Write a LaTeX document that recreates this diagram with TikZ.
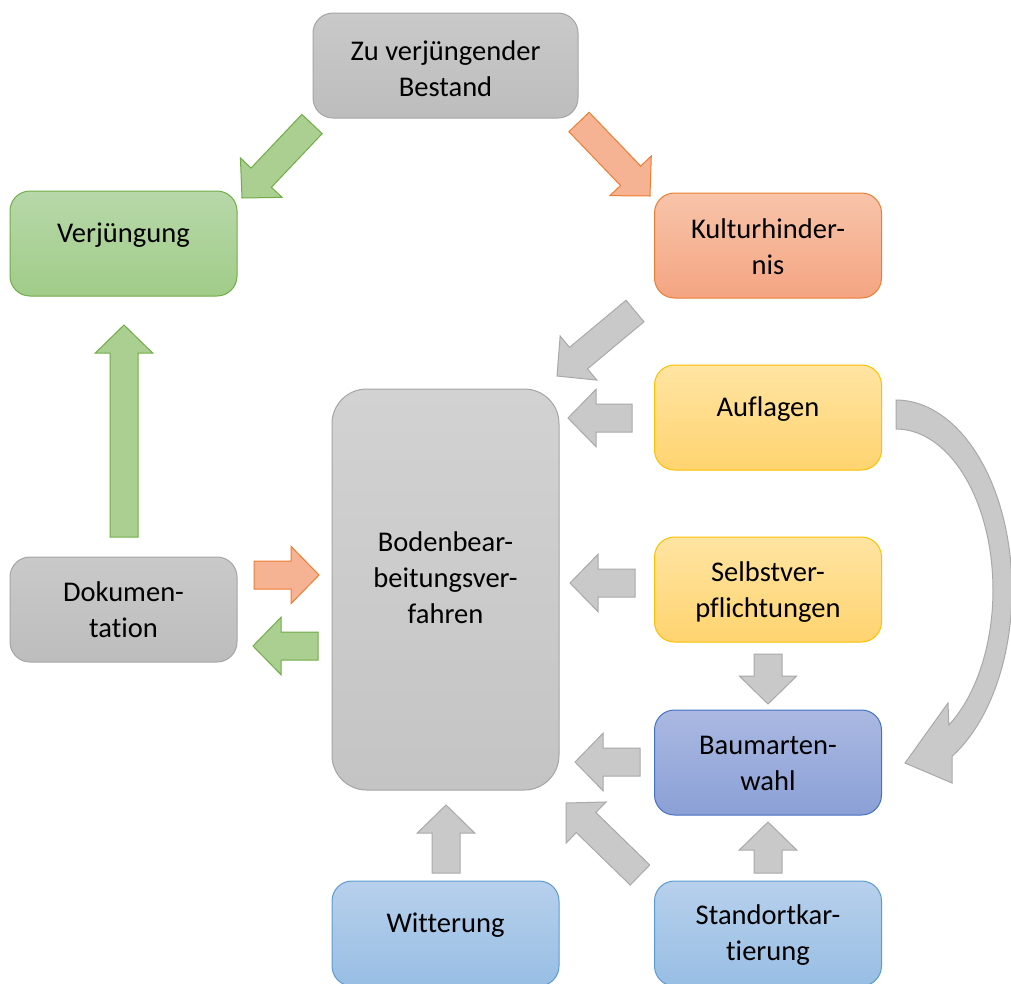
\documentclass[tikz,border=0pt]{standalone}
\usepackage{fontspec}
\setmainfont{Carlito}[Ligatures={NoCommon}]
\usetikzlibrary{calc}
\definecolor{grayT}{HTML}{C9C9C9}
\definecolor{grayB}{HTML}{BDBDBD}
\definecolor{grayD}{HTML}{A5A5A5}
\definecolor{grayLT}{HTML}{D2D2D2}
\definecolor{grayLB}{HTML}{C4C4C4}
\definecolor{greenT}{HTML}{B7D8A9}
\definecolor{greenB}{HTML}{A0CC88}
\definecolor{greenD}{HTML}{70AD47}
\definecolor{orangeT}{HTML}{F8C4AA}
\definecolor{orangeB}{HTML}{F4A582}
\definecolor{orangeD}{HTML}{ED7D31}
\definecolor{yellowT}{HTML}{FFE4A2}
\definecolor{yellowB}{HTML}{FFD470}
\definecolor{yellowD}{HTML}{FFC000}
\definecolor{blueT}{HTML}{ABB9E2}
\definecolor{blueB}{HTML}{8BA0D6}
\definecolor{blueD}{HTML}{4472C4}
\definecolor{lblueT}{HTML}{B7D0EC}
\definecolor{lblueB}{HTML}{98BEE4}
\definecolor{lblueD}{HTML}{5B9BD5}
\definecolor{arrGray}{HTML}{C9C9C9}
\definecolor{arrGrayD}{HTML}{A9A9A9}
\definecolor{arrGreen}{HTML}{AACF90}
\definecolor{arrOrange}{HTML}{F5B394}
\tikzset{
  box/.style={draw, rounded corners=15pt, line width=0.75pt,
    minimum width=170.25pt, minimum height=78.75pt, inner sep=0pt},
  txt/.style={align=center, font=\fontsize{21.4}{27}\selectfont, inner sep=0pt},
  graybox/.style={box, draw=grayD, top color=grayT, bottom color=grayB},
  greenbox/.style={box, draw=greenD, top color=greenT, bottom color=greenB},
  orangebox/.style={box, draw=orangeD, top color=orangeT, bottom color=orangeB},
  yellowbox/.style={box, draw=yellowD, top color=yellowT, bottom color=yellowB},
  bluebox/.style={box, draw=blueD, top color=blueT, bottom color=blueB},
  lbluebox/.style={box, draw=lblueD, top color=lblueT, bottom color=lblueB},
  grayarr/.style={fill=arrGray, draw=arrGrayD, line width=0.75pt, line join=miter},
  greenarr/.style={fill=arrGreen, draw=greenD, line width=0.75pt, line join=miter},
  orangearr/.style={fill=arrOrange, draw=orangeD, line width=0.75pt, line join=miter},
}
% #1 style, #2 tail, #3 tip
\newcommand\blockarrow[3]{%
  \coordinate (ba-h) at ($(#3)!21pt!(#2)$);
  \path[#1] ($(#2)!10.5pt!90:(#3)$) -- ($(ba-h)!10.5pt!90:(#3)$) -- ($(ba-h)!21.5pt!90:(#3)$)
    -- (#3) -- ($(ba-h)!21.5pt!-90:(#3)$) -- ($(ba-h)!10.5pt!-90:(#3)$)
    -- ($(#2)!10.5pt!-90:(#3)$) -- cycle;}
\begin{document}
\begin{tikzpicture}[x=0.75pt,y=-0.75pt]
\clip (0,0) rectangle (1011,983);
\fill[white] (0,0) rectangle (1011,983);
% boxes
\node[graybox, minimum width=198.75pt] (best) at (445.5,65.5) {};
\node[greenbox] (verj) at (123.5,243.5) {};
\node[orangebox] (kult) at (768,245.5) {};
\node[yellowbox] (aufl) at (768,417.5) {};
\node[yellowbox] (selb) at (768,589.5) {};
\node[bluebox] (baum) at (768,762.5) {};
\node[lbluebox] (stand) at (768,933.5) {};
\node[lbluebox] (witt) at (445.5,933.5) {};
\node[graybox] (doku) at (123.5,609.5) {};
\node[graybox, top color=grayLT, bottom color=grayLB, rounded corners=26pt, minimum height=300.75pt] (boden) at (445.5,589.5) {};
% texts
\node[txt] (best-t) at (445.5,69) {Zu verjüngender\\Bestand};
\node[txt] (verj-t) at (123.5,234.7) {Verjüngung};
\node[txt] (kult-t) at (768,246.5) {Kulturhinder-\\nis};
\node[txt] (aufl-t) at (768,408.7) {Auflagen};
\node[txt] (selb-t) at (768,592) {Selbstver-\\pflichtungen};
\node[txt] (baum-t) at (768,763.5) {Baumarten-\\wahl};
\node[txt] (stand-t) at (768,935.5) {Standortkar-\\tierung};
\node[txt] (witt-t) at (445.5,924.7) {Witterung};
\node[txt] (doku-t) at (123.5,609.5) {Dokumen-\\tation};
\node[txt] (boden-t) at (445.5,578) {Bodenbear-\\beitungsver-\\fahren};
% arrow end points
\coordinate (a1s) at (312,124); \coordinate (a1e) at (242,198);
\coordinate (a2s) at (579,122); \coordinate (a2e) at (650,196);
\coordinate (a3s) at (635,311); \coordinate (a3e) at (557,376);
\coordinate (a4s) at (632,418); \coordinate (a4e) at (568,418);
\coordinate (a5s) at (635,583); \coordinate (a5e) at (570,583);
\coordinate (a6s) at (640,762); \coordinate (a6e) at (575,762);
\coordinate (a7s) at (640,875); \coordinate (a7e) at (566,803);
\coordinate (a8s) at (446,873); \coordinate (a8e) at (446,805);
\coordinate (a9s) at (768,873); \coordinate (a9e) at (768,822);
\coordinate (a10s) at (768,654); \coordinate (a10e) at (768,704);
\coordinate (a11s) at (254,575); \coordinate (a11e) at (319,575);
\coordinate (a12s) at (318,646); \coordinate (a12e) at (253,646);
\coordinate (a13s) at (124,537); \coordinate (a13e) at (124,325);
% arrows
\blockarrow{greenarr}{a1s}{a1e}
\blockarrow{orangearr}{a2s}{a2e}
\blockarrow{grayarr}{a3s}{a3e}
\blockarrow{grayarr}{a4s}{a4e}
\blockarrow{grayarr}{a5s}{a5e}
\blockarrow{grayarr}{a6s}{a6e}
\blockarrow{grayarr}{a7s}{a7e}
\blockarrow{grayarr}{a8s}{a8e}
\blockarrow{grayarr}{a9s}{a9e}
\blockarrow{grayarr}{a10s}{a10e}
\blockarrow{orangearr}{a11s}{a11e}
\blockarrow{greenarr}{a12s}{a12e}
\blockarrow{greenarr}{a13s}{a13e}
% curved arrow from Auflagen to Baumartenwahl
\coordinate (ctip) at (905,763);
\path[grayarr] plot[domain=0:151, samples=50, variable=\t] ({896+116*sin(\t)},{590-190*cos(\t)})
  -- (952,783) -- (ctip) -- (948,703)
  -- plot[domain=147:0, samples=50, variable=\t] ({896+97*sin(\t)},{590-161*cos(\t)}) -- cycle;
\end{tikzpicture}
\end{document}
